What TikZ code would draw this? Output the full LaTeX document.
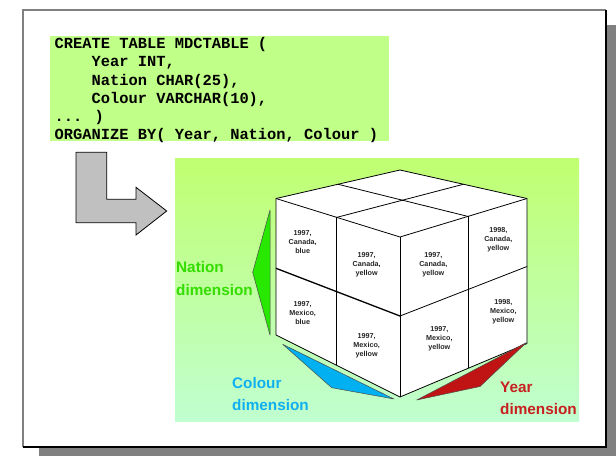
\documentclass[tikz,border=0pt]{standalone}
\usepackage{fontspec}
\setmainfont{Liberation Sans}
\newfontfamily\codefont{Liberation Mono}
\usetikzlibrary{calc}

\definecolor{codebg}{RGB}{192,255,136}
\definecolor{gradtop}{RGB}{192,255,112}
\definecolor{gradbot}{RGB}{192,255,208}
\definecolor{shadowgray}{RGB}{128,128,128}
\definecolor{arrowgray}{RGB}{192,192,192}
\definecolor{nationgreen}{RGB}{40,232,0}
\definecolor{nationtext}{RGB}{51,221,0}
\definecolor{colourblue}{RGB}{0,176,240}
\definecolor{colourtext}{RGB}{16,176,240}
\definecolor{yearred}{RGB}{192,20,20}
\definecolor{yeartext}{RGB}{200,32,32}

\tikzset{
  edge/.style={draw=black, line width=0.8pt, line join=round},
  cell/.style={align=center, inner sep=0pt, text=black!85, font=\fontsize{7.2}{9}\selectfont\bfseries},
  dimlabel/.style={anchor=base west, inner sep=0pt, font=\fontsize{15.3}{18}\selectfont\bfseries},
  wedge/.style={draw=black!70, line width=0.5pt, line join=round},
}

\begin{document}
\begin{tikzpicture}[x=1pt,y=-1pt]
\useasboundingbox (0,0) rectangle (616,456);

% page with drop shadow
\fill[shadowgray] (39,25) rectangle (616,456);
\fill[white] (23,10) rectangle (606,447);
\draw[shadowgray, line width=1.6pt] (23,447) -- (23,10) -- (606,10);
\draw[black, line width=1.2pt] (606,10) -- (606,447) -- (23,447);

% SQL statement (anchored on the baseline of its last line)
\fill[codebg] (50,35.7) rectangle (389,140.5);
\node[anchor=base west, inner sep=0pt, align=left,
      font=\codefont\bfseries\fontsize{15.4}{18.2}\selectfont] (sql) at (54.5,139.6)
  {CREATE TABLE MDCTABLE (\\
   \phantom{xxxx}Year INT,\\
   \phantom{xxxx}Nation CHAR(25),\\
   \phantom{xxxx}Colour VARCHAR(10),\\
   ... )\\
   ORGANIZE BY( Year, Nation, Colour )};

% bent arrow
\draw[fill=arrowgray, line width=0.8pt, line join=miter]
  (76,152.3) -- (106.7,152.3) -- (106.7,199.3) -- (136,199.3) -- (136,187.3)
  -- (166.7,211) -- (136,235) -- (136,222.7) -- (76,222.7) -- cycle;

% cube panel
\shade[top color=gradtop, bottom color=gradbot] (175,158) rectangle (579,421);

% cube corners
\coordinate (TL) at (276,198.5);
\coordinate (TB) at (400,170);
\coordinate (TR) at (527,198.5);
\coordinate (FT) at (400,237);
\coordinate (BL) at (276,335);
\coordinate (FB) at (400,397);
\coordinate (BR) at (527,343.5);
% dividing points
\coordinate (LmT) at ($(TL)!0.49!(FT)$);
\coordinate (LmB) at ($(BL)!0.49!(FB)$);
\coordinate (RmT) at ($(FT)!0.535!(TR)$);
\coordinate (RmB) at ($(FB)!0.535!(BR)$);
\coordinate (LmL) at (276,268.3);
\coordinate (LmF) at (400,316);
\coordinate (RmR) at (527,266.5);
\coordinate (TmL) at ($(TL)!0.5!(TB)$);
\coordinate (TmR) at ($(TB)!0.5!(TR)$);

% faces
\fill[white] (TL) -- (TB) -- (TR) -- (BR) -- (FB) -- (BL) -- cycle;
\draw[edge] (TL) -- (TB) -- (TR) -- (BR) -- (FB) -- (BL) -- cycle;
\draw[edge] (TL) -- (FT) -- (TR);
\draw[edge] (FT) -- (FB);
\draw[edge] (LmT) -- (LmB);
\draw[edge] (RmT) -- (RmB);
\draw[edge, line width=1.3pt] (LmL) -- (LmF);
\draw[edge] (LmF) -- (RmR);
\draw[edge] (TmL) -- (RmT);
\draw[edge] (TmR) -- (LmT);

% cell contents
\node[cell] (c1) at (302.7,242.3) {1997,\\Canada,\\blue};
\node[cell] (c2) at (366.7,264.3) {1997,\\Canada,\\yellow};
\node[cell] (c3) at (302.7,313.3) {1997,\\Mexico,\\blue};
\node[cell] (c4) at (366.7,346) {1997,\\Mexico,\\yellow};
\node[cell] (c5) at (433.3,264.3) {1997,\\Canada,\\yellow};
\node[cell] (c6) at (498.3,240) {1998,\\Canada,\\yellow};
\node[cell] (c7) at (439.3,338.3) {1997,\\Mexico,\\yellow};
\node[cell] (c8) at (503.3,311.7) {1998,\\Mexico,\\yellow};

% dimension wedges
\draw[wedge, fill=nationgreen] (270,210) -- (252.7,272.3) -- (270,335) -- cycle;
\draw[wedge, fill=colourblue] (282.7,344.3) -- (331.7,387.7) -- (394,399) -- cycle;
\draw[wedge, fill=yearred] (416.7,400) -- (480,386.5) -- (526.5,342.5) -- cycle;

% dimension labels
\node[dimlabel, text=nationtext] (nat1) at (176,272) {Nation};
\node[dimlabel, text=nationtext] (nat2) at (176,295) {dimension};
\node[dimlabel, text=colourtext] (col1) at (232,388) {Colour};
\node[dimlabel, text=colourtext] (col2) at (232,410.5) {dimension};
\node[dimlabel, text=yeartext] (yr1) at (500,392) {Year};
\node[dimlabel, text=yeartext] (yr2) at (500,414.5) {dimension};
\end{tikzpicture}
\end{document}
